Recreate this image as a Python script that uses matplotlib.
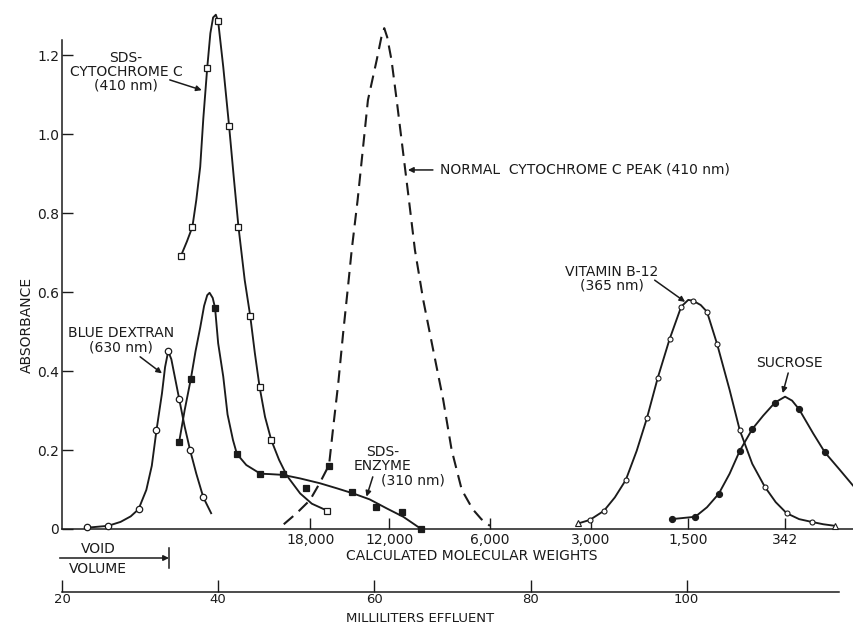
import matplotlib
matplotlib.use("Agg")
import matplotlib.pyplot as plt
from matplotlib.ticker import FixedLocator, FixedFormatter

INK = "#1b1b1b"

# --- measured points (ml effluent, absorbance) ---
dextran_ml = [23.2, 25.9, 29.8, 32.1, 33.6, 35.0, 36.4, 38.1]
dextran_abs = [0.006, 0.008, 0.05, 0.25, 0.45, 0.33, 0.20, 0.08]

cyt_ml = [35.2, 36.7, 38.6, 40.0, 41.4, 42.6, 44.1, 45.3, 46.8, 54.0]
cyt_abs = [0.69, 0.765, 1.168, 1.285, 1.02, 0.765, 0.54, 0.36, 0.225, 0.046]

enzyme_ml = [35.0, 36.5, 39.6, 42.4, 45.4, 48.3, 51.3, 54.2, 57.2, 60.2, 63.6, 66.0]
enzyme_abs = [0.22, 0.38, 0.56, 0.19, 0.14, 0.14, 0.105, 0.16, 0.093, 0.055, 0.044, 0.0]

b12_ml = [86.1, 87.6, 89.4, 92.2, 94.9, 96.3, 97.8, 99.3, 100.8, 102.6,
          103.9, 106.8, 110.0, 112.8, 116.0, 119.0]
b12_abs = [0.014, 0.023, 0.046, 0.124, 0.28, 0.383, 0.48, 0.563, 0.578, 0.55,
           0.468, 0.25, 0.107, 0.04, 0.018, 0.008]

sucrose_ml = [98.1, 101.1, 104.1, 106.8, 108.4, 111.3, 114.4, 117.7]
sucrose_abs = [0.025, 0.031, 0.089, 0.198, 0.253, 0.32, 0.303, 0.194]

# --- hand-drawn curves through the points ---
dextran_line_ml = [23.0, 25.9, 27.5, 28.8, 29.8, 30.8, 31.5, 32.1, 32.8, 33.2,
                   33.6, 34.0, 34.5, 35.0, 35.7, 36.4, 37.2, 38.1, 39.1]
dextran_line_abs = [0.003, 0.008, 0.018, 0.032, 0.05, 0.099, 0.16, 0.25, 0.343, 0.41,
                    0.45, 0.43, 0.38, 0.33, 0.26, 0.20, 0.14, 0.08, 0.04]

cyt_line_ml = [35.2, 36.0, 36.7, 37.2, 37.7, 38.1, 38.6, 39.0, 39.35, 39.7, 40.0,
               40.65, 41.4, 42.0, 42.6, 43.4, 44.1, 44.7, 45.3, 46.0, 46.8,
               47.8, 48.8, 50.5, 52.0, 54.0]
cyt_line_abs = [0.69, 0.728, 0.765, 0.833, 0.917, 1.04, 1.168, 1.255, 1.295, 1.302, 1.285,
                1.17, 1.02, 0.89, 0.765, 0.63, 0.54, 0.445, 0.36, 0.284, 0.225,
                0.175, 0.135, 0.09, 0.064, 0.046]

enzyme_line_ml = [35.0, 35.7, 36.5, 37.1, 37.7, 38.2, 38.6, 38.9, 39.3, 39.6, 40.0,
                  40.65, 41.2, 41.9, 42.4, 43.6, 45.4, 46.6, 48.3, 50.5, 53.0,
                  55.2, 57.3, 59.4, 61.6, 63.7, 66.0]
enzyme_line_abs = [0.22, 0.30, 0.38, 0.45, 0.51, 0.565, 0.592, 0.598, 0.585, 0.56, 0.47,
                   0.386, 0.29, 0.225, 0.19, 0.162, 0.14, 0.139, 0.137, 0.128, 0.116,
                   0.103, 0.09, 0.075, 0.052, 0.031, 0.0]

normal_line_ml = [48.4, 50.05, 51.75, 53.0, 54.2, 54.74, 55.38, 56.0, 56.66, 57.1,
                  57.86, 59.18, 60.3, 60.9, 61.27, 61.65, 62.2, 62.86, 64.43, 65.2,
                  66.26, 67.54, 68.82, 69.9, 71.2, 72.6, 73.7, 74.8]
normal_line_abs = [0.012, 0.04, 0.073, 0.116, 0.162, 0.259, 0.369, 0.495, 0.62, 0.706,
                   0.833, 1.086, 1.187, 1.245, 1.268, 1.245, 1.187, 1.086, 0.833, 0.706,
                   0.58, 0.453, 0.327, 0.2, 0.099, 0.05, 0.025, 0.008]

b12_line_ml = [86.1, 87.6, 89.4, 90.8, 92.2, 93.6, 94.9, 96.3, 97.8, 99.3, 100.2,
               100.8, 101.8, 102.6, 103.9, 105.5, 106.8, 108.4, 110.0, 111.4,
               112.8, 114.4, 116.0, 117.5, 119.0]
b12_line_abs = [0.014, 0.023, 0.046, 0.08, 0.124, 0.198, 0.28, 0.383, 0.48, 0.563, 0.58,
                0.578, 0.567, 0.55, 0.468, 0.352, 0.25, 0.165, 0.107, 0.068,
                0.04, 0.025, 0.018, 0.012, 0.008]

sucrose_line_ml = [98.1, 101.1, 102.6, 104.1, 105.5, 106.8, 108.4, 109.8, 111.3,
                   112.6, 113.5, 114.4, 116.2, 117.7, 119.6, 121.3]
sucrose_line_abs = [0.025, 0.031, 0.055, 0.089, 0.14, 0.198, 0.253, 0.287, 0.32,
                    0.335, 0.325, 0.303, 0.242, 0.194, 0.15, 0.11]

# molecular weight scale laid against the elution volume
mw_ml = [51.8, 61.9, 74.8, 87.7, 100.2, 112.6]
mw_labels = ["18,000", "12,000", "6,000", "3,000", "1,500", "342"]

ml_ticks = [20, 40, 60, 80, 100]
abs_ticks = [0, 0.2, 0.4, 0.6, 0.8, 1.0, 1.2]
abs_labels = ["0", "0.2", "0.4", "0.6", "0.8", "1.0", "1.2"]

VOID_ML = 33.7
ML_END = 119.5

W, H = 854, 625
fig = plt.figure(figsize=(W / 100, H / 100), dpi=100)
plt.rcParams["font.family"] = "DejaVu Sans"
FS = 10

# main panel: x from 62 to 853 px, y from 529 (zero) up to 40 px
ax = fig.add_axes([62 / W, (H - 529) / H, 791 / W, 489 / H])
ax.set_xlim(20, 121.3)
ax.set_ylim(0, 1.238)
for s in ("top", "right"):
    ax.spines[s].set_visible(False)
for s in ("left", "bottom"):
    ax.spines[s].set_linewidth(1.1)
    ax.spines[s].set_color(INK)

ax.yaxis.set_major_locator(FixedLocator(abs_ticks))
ax.yaxis.set_major_formatter(FixedFormatter(abs_labels))
ax.xaxis.set_major_locator(FixedLocator(mw_ml))
ax.xaxis.set_major_formatter(FixedFormatter(mw_labels))
ax.tick_params(axis="both", direction="in", length=8, width=1.0, color=INK,
               labelsize=FS, labelcolor=INK)
ax.tick_params(axis="x", pad=3)
ax.tick_params(axis="y", pad=2)

lw = 1.35
line_kw = dict(color=INK, clip_on=False)
# curves (peaks rise past the top of the axis, so no clipping)
ax.plot(dextran_line_ml, dextran_line_abs, lw=lw, **line_kw)
ax.plot(cyt_line_ml, cyt_line_abs, lw=lw, **line_kw)
ax.plot(enzyme_line_ml, enzyme_line_abs, lw=lw, **line_kw)
ax.plot(normal_line_ml, normal_line_abs, lw=1.5, ls=(0, (6, 3.5)), **line_kw)
ax.plot(b12_line_ml, b12_line_abs, lw=lw, **line_kw)
ax.plot(sucrose_line_ml, sucrose_line_abs, lw=lw, **line_kw)

# data points
pt_kw = dict(ls="none", mec=INK, zorder=3, clip_on=False)
ax.plot(dextran_ml, dextran_abs, marker="o", ms=4.6, mfc="white", mew=0.9, **pt_kw)
ax.plot(cyt_ml, cyt_abs, marker="s", ms=4.4, mfc="white", mew=0.9, **pt_kw)
ax.plot(enzyme_ml, enzyme_abs, marker="s", ms=4.4, mfc=INK, mew=0.9, **pt_kw)
ax.plot(b12_ml[1:-1], b12_abs[1:-1], marker="o", ms=3.6, mfc="white", mew=0.8, **pt_kw)
ax.plot([b12_ml[0], b12_ml[-1]], [b12_abs[0], b12_abs[-1]], marker="^",
        ms=4.2, mfc="white", mew=0.8, **pt_kw)
ax.plot(sucrose_ml, sucrose_abs, marker="o", ms=4.4, mfc=INK, mew=0.8, **pt_kw)

arrow = dict(arrowstyle="-|>", color=INK, lw=1.1, mutation_scale=8,
             shrinkA=0, shrinkB=0)


def label(x, y, txt, **kw):
    kw.setdefault("ha", "center")
    kw.setdefault("va", "center")
    ax.text(x, y, txt, fontsize=FS, color=INK, linespacing=1.0, **kw)


def pointer(tail, head):
    ax.annotate("", xy=head, xytext=tail, arrowprops=arrow)


label(28.2, 1.158, "SDS-\nCYTOCHROME C\n(410 nm)", multialignment="center")
pointer((33.8, 1.137), (37.9, 1.111))

label(27.6, 0.478, "BLUE DEXTRAN\n(630 nm)", multialignment="center")
pointer((30.0, 0.436), (32.8, 0.394))

label(61.1, 0.178, "SDS-\nENZYME", multialignment="center")
label(60.9, 0.124, "(310 nm)", ha="left")
pointer((59.8, 0.132), (59.0, 0.082))

label(68.4, 0.909, "NORMAL  CYTOCHROME C PEAK (410 nm)", ha="left")
pointer((67.5, 0.909), (64.3, 0.909))

label(90.4, 0.634, "VITAMIN B-12\n(365 nm)", multialignment="center")
pointer((95.9, 0.63), (99.8, 0.575))

label(113.2, 0.42, "SUCROSE")
pointer((113.0, 0.395), (112.3, 0.344))

# text and void-volume marker below the main axis (y in axes fraction)
xt = ax.get_xaxis_transform()
ax.text(72.5, (529 - 556) / 489, "CALCULATED MOLECULAR WEIGHTS", transform=xt,
        ha="center", va="center", fontsize=FS, color=INK)
y_arrow = (529 - 558) / 489
ax.annotate("", xy=(VOID_ML, y_arrow), xytext=(19.7, y_arrow), xycoords=xt,
            textcoords=xt, arrowprops=arrow, annotation_clip=False)
ax.plot([VOID_ML, VOID_ML], [(529 - 548) / 489, (529 - 568) / 489], color=INK,
        lw=1.1, transform=xt, clip_on=False)
ax.text(24.6, (529 - 549) / 489, "VOID", transform=xt, ha="center", va="center",
        fontsize=FS, color=INK)
ax.text(24.6, (529 - 569) / 489, "VOLUME", transform=xt, ha="center", va="center",
        fontsize=FS, color=INK)

# elution volume scale
FS_ML = 9.5
ax_ml = fig.add_axes([62 / W, (H - 592) / H, 791 / W, 1 / H])
ax_ml.set_xlim(20, 121.3)
ax_ml.patch.set_visible(False)
for s in ("top", "right", "left"):
    ax_ml.spines[s].set_visible(False)
ax_ml.spines["bottom"].set_bounds(20, ML_END)
ax_ml.spines["bottom"].set_linewidth(1.1)
ax_ml.spines["bottom"].set_color(INK)
ax_ml.set_yticks([])
ax_ml.xaxis.set_major_locator(FixedLocator(ml_ticks))
ax_ml.tick_params(axis="x", direction="in", length=9, width=1.0, color=INK,
                  labelsize=FS_ML, labelcolor=INK, pad=1)
fig.text((62 + (65.8 - 20) * 7.81) / W, 1 - 618 / H, "MILLILITERS EFFLUENT",
         ha="center", va="center", fontsize=FS_ML, color=INK)

fig.text(27 / W, 1 - 325 / H, "ABSORBANCE", rotation=90, ha="center", va="center",
         fontsize=FS, color=INK)

fig.savefig("out.png", dpi=100, facecolor="white")
